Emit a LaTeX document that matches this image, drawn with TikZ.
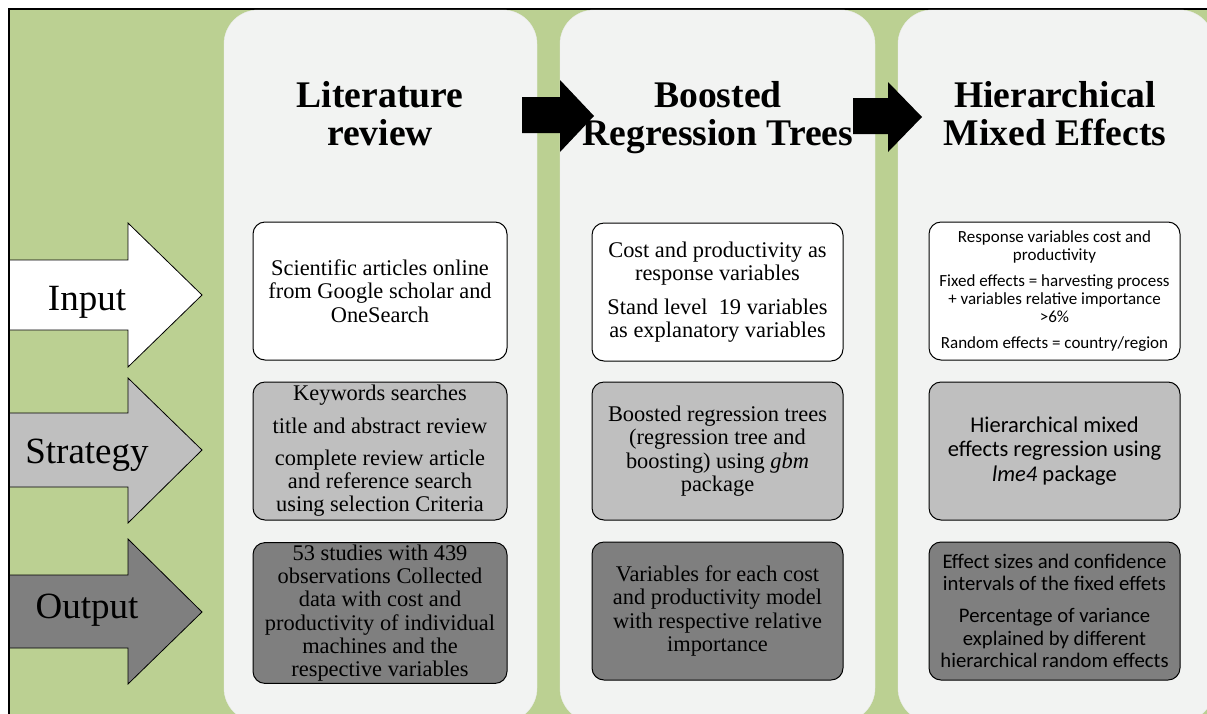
\documentclass[tikz,border=0pt]{standalone}
\usepackage{fontspec}
\setmainfont{Liberation Serif}
\newfontfamily\tnr{Liberation Serif}
\newfontfamily\calibri{Carlito}
\definecolor{bggreen}{HTML}{BBD092}
\definecolor{panelgray}{HTML}{F2F3F2}
\definecolor{midgray}{HTML}{BFBFBF}
\definecolor{darkgray}{HTML}{7F7F7F}
\tikzset{
  panel/.style={fill=panelgray, draw=panelgray!85!black!40, line width=0.4pt, rounded corners=34pt},
  box/.style={draw=black, line width=1pt, rounded corners=12pt, minimum height=138pt, align=center, inner sep=2pt},
  inbox/.style={box, fill=white},
  stbox/.style={box, fill=midgray},
  outbox/.style={box, fill=darkgray},
  serifbody/.style={font=\tnr\fontsize{22.4}{23.3}\selectfont},
  title/.style={align=center, font=\tnr\bfseries\fontsize{37.6}{38}\selectfont},
  sidearrow/.style={draw=black, line width=0.8pt},
  sidelabel/.style={anchor=base, font=\tnr\fontsize{37}{40}\selectfont},
  flowarrow/.style={fill=black}
}
\begin{document}
\begin{tikzpicture}[x=1pt,y=-1pt]
\useasboundingbox (0,0) rectangle (1207,713);
\begin{scope}
\clip (0,0) rectangle (1207,713);
\fill[bggreen] (9,9) rectangle (1240,740);
\draw[line width=1.6pt] (9,745) -- (9,9) -- (1240,9);
% panels
\path[panel] (224,10) rectangle (537,722);
\path[panel] (560,10) rectangle (875,722);
\path[panel] (898,10) rectangle (1214,722);
\end{scope}

% side arrows
\filldraw[sidearrow, fill=white] (10,260) -- (128,260) -- (128,223) -- (202,295) -- (128,367) -- (128,330) -- (10,330);
\filldraw[sidearrow, fill=midgray] (10,413) -- (128,413) -- (128,378) -- (202,450) -- (128,523) -- (128,487) -- (10,487);
\filldraw[sidearrow, fill=darkgray] (10,575) -- (128,575) -- (128,539) -- (202,612) -- (128,684) -- (128,648) -- (10,648);
\node[sidelabel] (linput) at (87,310) {Input};
\node[sidelabel] (lstrategy) at (87,463) {Strategy};
\node[sidelabel] (loutput) at (87,618) {Output};

% titles
\node[title] (t1) at (380,114) {Literature\\review};
\node[title] (t2) at (718,118) {Boosted\\Regression Trees};
\node[title] (t3) at (1055,114) {Hierarchical\\Mixed Effects};

% flow arrows
\fill[flowarrow] (522,97) -- (560,97) -- (560,80) -- (594,116) -- (560,152) -- (560,133) -- (522,133) -- cycle;
\fill[flowarrow] (853,98) -- (888,98) -- (888,82) -- (922,117) -- (888,152) -- (888,134) -- (853,134) -- cycle;

% column 1
\node[inbox, serifbody, minimum width=254pt] (a1) at (380,291)
  {Scientific articles online\\from Google scholar and\\OneSearch};
\node[stbox, serifbody, minimum width=254pt] (a2) at (380,451)
  {Keywords searches\\[9pt]title and abstract review\\[9pt]complete review article\\and reference search\\using selection Criteria};
\node[outbox, serifbody, minimum width=254pt] (a3) at (380,613)
  {53 studies with 439\\observations Collected\\data with cost and\\productivity of individual\\machines and the\\respective variables};

% column 2
\node[inbox, serifbody, minimum width=251pt] (b1) at (717.5,292)
  {Cost and productivity as\\response variables\\[10pt]Stand level\ \ 19 variables\\as explanatory variables};
\node[stbox, serifbody, minimum width=251pt] (b2) at (717.5,451)
  {Boosted regression trees\\(regression tree and\\boosting) using \textit{gbm}\\package};
\node[outbox, serifbody, minimum width=251pt] (b3) at (717.5,611)
  {Variables for each cost\\and productivity model\\with respective relative\\importance};

% column 3
\node[inbox, minimum width=251pt, font=\calibri\fontsize{17}{18}\selectfont] (c1) at (1054.5,291)
  {Response variables cost and\\productivity\\[8pt]Fixed effects = harvesting process\\+ variables relative importance\\>6\%\\[8pt]Random effects = country/region};
\node[stbox, minimum width=251pt, font=\calibri\fontsize{22.5}{24.5}\selectfont] (c2) at (1054.5,451)
  {Hierarchical mixed\\effects regression using\\\textit{lme4} package};
\node[outbox, minimum width=251pt, font=\calibri\fontsize{20.7}{22.5}\selectfont] (c3) at (1054.5,611)
  {Effect sizes and confidence\\intervals of the fixed effets\\[9.5pt]Percentage of variance\\explained by different\\hierarchical random effects};
\end{tikzpicture}
\end{document}
